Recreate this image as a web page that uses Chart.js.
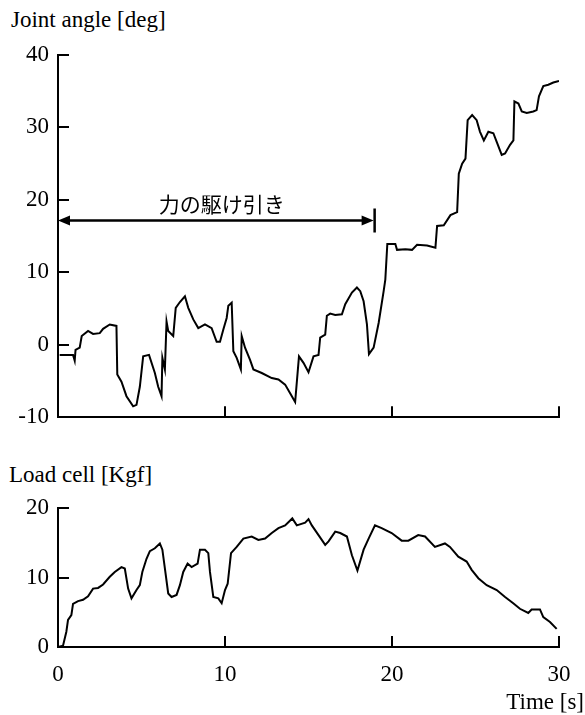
<!DOCTYPE html>
<html>
<head>
<meta charset="utf-8">
<script src="https://cdn.jsdelivr.net/npm/chart.js@4/dist/chart.umd.min.js"></script>
<style>
  body { margin: 0; background: #fff; width: 585px; height: 715px; position: relative; overflow: hidden; }
  canvas { position: absolute; left: 0; }
  .lbl { position: absolute; font-family: "Liberation Serif", serif; font-size: 23px; color: #000; white-space: nowrap; line-height: 23px; }
</style>
</head>
<body>
<div class="lbl" style="left:11px; top:8px;">Joint angle [deg]</div>
<canvas id="angle" width="585" height="440" style="top:0"></canvas>
<div class="lbl" style="left:9px; top:463px;">Load cell [Kgf]</div>
<canvas id="load" width="585" height="265" style="top:450px"></canvas>
<div class="lbl" style="right:1px; top:690px;">Time [s]</div>
<script>
// joint angle
let angleTime = [0.1, 0.9, 1.0, 1.05, 1.3, 1.42, 1.8, 2.1, 2.5, 2.7, 3.1, 3.5, 3.55, 3.8, 4.1, 4.5, 4.7, 4.9, 5.1, 5.45,
  5.8, 6.0, 6.2, 6.25, 6.4, 6.5, 6.6, 6.9, 7.05, 7.3, 7.6, 7.8, 8.1, 8.4, 8.8, 9.2, 9.5, 9.7, 9.9, 10.1,
  10.2, 10.4, 10.5, 10.7, 10.95, 11.0, 11.2, 11.5, 11.7, 12.2, 12.8, 13.2, 13.6, 13.9, 14.2, 14.43, 14.7, 15.0, 15.3, 15.6,
  15.7, 16.0, 16.1, 16.3, 16.6, 17.0, 17.2, 17.6, 17.9, 18.1, 18.3, 18.5, 18.62, 18.9, 19.2, 19.5, 19.6, 19.72, 20.2, 20.3,
  20.8, 21.2, 21.5, 22.1, 22.6, 22.7, 23.1, 23.5, 23.9, 24.0, 24.2, 24.4, 24.53, 24.8, 25.07, 25.27, 25.5, 25.77, 26.07, 26.27,
  26.57, 26.77, 27.07, 27.27, 27.33, 27.57, 27.77, 28.07, 28.46, 28.66, 28.8, 29.06, 29.36, 29.66, 30.0];
let angleValue = [-1.4, -1.4, -2.2, -0.7, -0.4, 1.2, 1.9, 1.5, 1.6, 2.2, 2.8, 2.6, -4.1, -5.1, -7.1, -8.5, -8.3, -5.8, -1.6, -1.4,
  -3.9, -5.8, -7.1, -1.8, -3.4, 3.2, 1.9, 1.2, 5.1, 5.9, 6.7, 5.1, 3.5, 2.3, 2.8, 2.3, 0.4, 0.4, 2.1, 3.7,
  5.4, 5.8, -0.9, -1.8, -3.4, 1.2, -0.4, -2.1, -3.4, -3.9, -4.6, -4.8, -5.5, -6.7, -7.9, -1.6, -2.5, -3.8, -1.6, -1.4,
  1.0, 1.4, 4.0, 4.3, 4.1, 4.2, 5.6, 7.2, 7.9, 7.4, 6.0, 2.8, -1.3, -0.4, 3.0, 7.4, 9.0, 13.9, 13.9, 13.1,
  13.2, 13.1, 13.8, 13.7, 13.4, 16.4, 16.5, 17.9, 18.3, 23.6, 25.0, 25.7, 31.0, 31.7, 31.0, 29.4, 28.2, 29.4, 29.2, 28.0,
  26.2, 26.4, 27.6, 28.2, 33.6, 33.3, 32.2, 32.0, 32.2, 32.4, 34.3, 35.7, 35.9, 36.2, 36.4];

// load cell
let loadTime = [0.0, 0.3, 0.5, 0.6, 0.8, 0.9, 1.2, 1.5, 1.8, 2.1, 2.4, 2.7, 3.1, 3.4, 3.8, 4.0, 4.2, 4.4, 4.7, 4.9,
  5.05, 5.3, 5.5, 5.8, 6.1, 6.25, 6.4, 6.6, 6.8, 7.1, 7.3, 7.5, 7.76, 8.0, 8.36, 8.5, 8.8, 9.0, 9.1, 9.3,
  9.6, 9.8, 10.0, 10.16, 10.36, 10.7, 11.1, 11.6, 12.0, 12.4, 12.8, 13.2, 13.6, 14.03, 14.3, 14.8, 15.0, 15.2, 15.6, 16.0,
  16.2, 16.6, 16.9, 17.3, 17.6, 17.93, 18.3, 18.6, 18.98, 19.38, 19.98, 20.58, 20.98, 21.57, 21.98, 22.57, 23.17, 23.47, 23.97, 24.47,
  24.77, 25.17, 25.67, 26.27, 26.77, 27.26, 27.66, 28.16, 28.36, 28.86, 29.06, 29.46, 29.86];
let loadValue = [0, 0.2, 2.2, 3.9, 4.6, 6.2, 6.6, 6.8, 7.3, 8.4, 8.5, 9.0, 10.1, 10.8, 11.5, 11.3, 8.4, 7.0, 8.2, 8.9,
  10.8, 12.7, 13.8, 14.2, 14.9, 14.0, 11.3, 7.7, 7.2, 7.5, 8.9, 10.8, 12.0, 11.5, 12.0, 14.0, 14.0, 13.5, 10.8, 7.2,
  7.0, 6.3, 8.2, 9.1, 13.5, 14.4, 15.6, 15.9, 15.4, 15.6, 16.4, 17.1, 17.5, 18.5, 17.5, 17.9, 18.4, 17.5, 16.1, 14.7,
  15.2, 16.6, 16.4, 15.9, 13.2, 11.0, 14.0, 15.6, 17.5, 17.1, 16.4, 15.3, 15.3, 16.1, 15.9, 14.4, 14.9, 14.4, 13.0, 12.3,
  11.1, 9.9, 8.9, 8.2, 7.2, 6.3, 5.5, 4.9, 5.4, 5.4, 4.3, 3.6, 2.6];

let timeTicks = [0, 10, 20, 30];
let bracketEnd = 18.9;       // end of the arrow, s
let bracketLevel = 17.15;    // arrow height, deg
let bracketText = '力の駆け引き';

const serif = { family: 'Liberation Serif', size: 23 };

function pairs(xs, ys) {
  let out = [];
  for (let i = 0; i < xs.length; i++) out.push({ x: xs[i], y: ys[i] });
  return out;
}

// tick marks drawn inward from the axes
const innerTicks = {
  id: 'innerTicks',
  afterDraw(chart) {
    let ctx = chart.ctx;
    let area = chart.chartArea;
    let sx = chart.scales.x, sy = chart.scales.y;
    ctx.save();
    ctx.strokeStyle = '#000';
    ctx.lineWidth = 2;
    ctx.beginPath();
    sy.ticks.forEach(t => {
      if (t.value === sy.min) return;
      let y = Math.round(sy.getPixelForValue(t.value));
      ctx.moveTo(area.left, y);
      ctx.lineTo(area.left + 11, y);
    });
    sx.ticks.forEach(t => {
      if (t.value === sx.min) return;
      let x = Math.round(sx.getPixelForValue(t.value));
      ctx.moveTo(x, area.bottom);
      ctx.lineTo(x, area.bottom - 11);
    });
    ctx.stroke();
    ctx.restore();
  }
};

// double arrow with the Japanese note
const bracket = {
  id: 'bracket',
  afterDraw(chart) {
    let ctx = chart.ctx;
    let sx = chart.scales.x, sy = chart.scales.y;
    let x0 = sx.getPixelForValue(0);
    let x1 = sx.getPixelForValue(bracketEnd);
    let y = sy.getPixelForValue(bracketLevel);
    ctx.save();
    ctx.strokeStyle = '#000';
    ctx.fillStyle = '#000';
    ctx.lineWidth = 2.5;
    ctx.beginPath();
    ctx.moveTo(x0 + 8, y);
    ctx.lineTo(x1 - 8, y);
    ctx.moveTo(x1 + 1, y - 12);
    ctx.lineTo(x1 + 1, y + 12);
    ctx.stroke();
    ctx.beginPath();
    ctx.moveTo(x0, y);
    ctx.lineTo(x0 + 12, y - 5);
    ctx.lineTo(x0 + 12, y + 5);
    ctx.closePath();
    ctx.moveTo(x1, y);
    ctx.lineTo(x1 - 12, y - 5);
    ctx.lineTo(x1 - 12, y + 5);
    ctx.closePath();
    ctx.fill();
    ctx.font = '21px "Noto Sans CJK JP"';
    ctx.textAlign = 'center';
    ctx.textBaseline = 'middle';
    ctx.fillText(bracketText, sx.getPixelForValue(9.8), y - 17);
    ctx.restore();
  }
};

function makeChart(id, xs, ys, yMin, yMax, opts) {
  return new Chart(document.getElementById(id), {
    type: 'line',
    data: {
      datasets: [{
        data: pairs(xs, ys),
        borderColor: '#000',
        borderWidth: 2,
        pointRadius: 0,
        tension: 0,
        fill: false
      }]
    },
    options: {
      responsive: false,
      animation: false,
      devicePixelRatio: 1,
      layout: { padding: { top: opts.top, right: 26, left: 0, bottom: 0 } },
      plugins: { legend: { display: false }, tooltip: { enabled: false } },
      scales: {
        x: {
          type: 'linear',
          min: 0,
          max: 30,
          afterBuildTicks: s => { s.ticks = timeTicks.map(v => ({ value: v })); },
          grid: { display: false, drawTicks: false },
          border: { display: true, color: '#000', width: 2 },
          ticks: { display: opts.xLabels, color: '#000', font: serif, padding: 14, maxRotation: 0 },
          afterFit: s => { s.height = opts.xHeight; }
        },
        y: {
          min: yMin,
          max: yMax,
          grid: { display: false, drawTicks: false },
          border: { display: true, color: '#000', width: 2 },
          ticks: { stepSize: 10, color: '#000', font: serif, padding: 9 },
          afterFit: s => { s.width = 58; }
        }
      }
    },
    plugins: opts.plugins
  });
}

makeChart('angle', angleTime, angleValue, -10, 40,
  { top: 55, xHeight: 15, xLabels: false, plugins: [innerTicks, bracket] });
makeChart('load', loadTime, loadValue, 0, 20,
  { top: 58, xHeight: 68, xLabels: true, plugins: [innerTicks] });
</script>
</body>
</html>
